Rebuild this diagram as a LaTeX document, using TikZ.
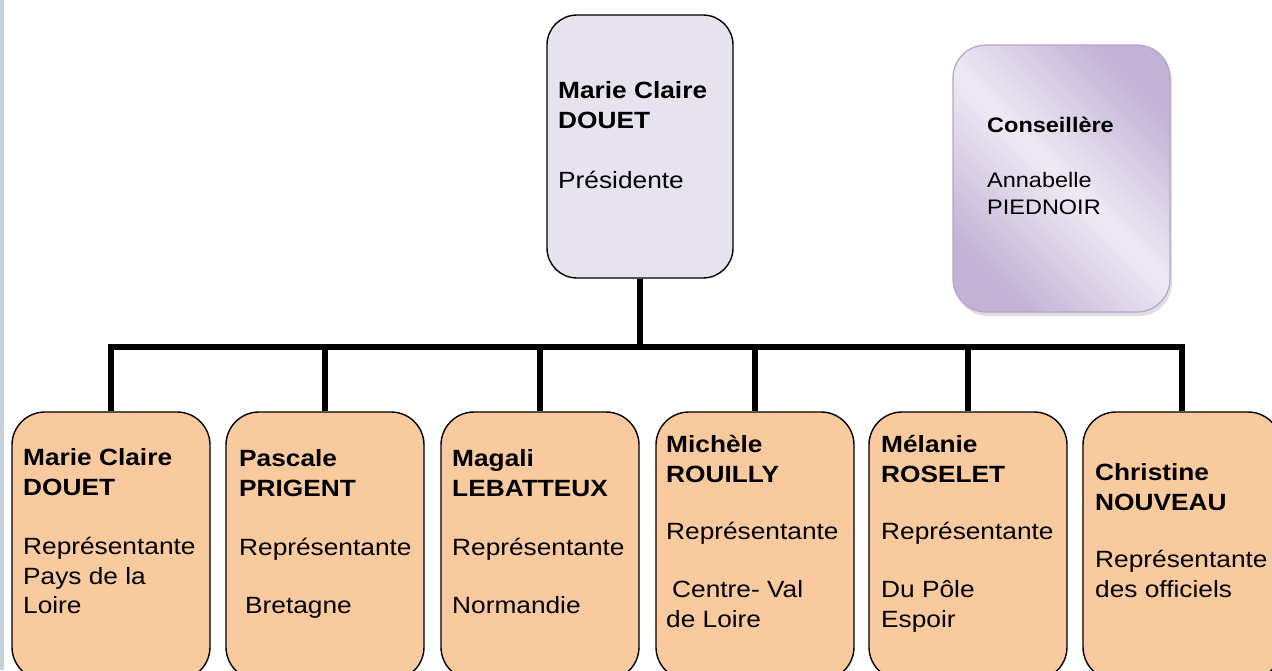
\documentclass[tikz,border=0pt]{standalone}
\usepackage{fontspec}
\setmainfont[FakeStretch=1.118]{Liberation Sans}
\usetikzlibrary{calc,shadows}
\definecolor{orangefill}{HTML}{F9CA9E}
\definecolor{topfill}{HTML}{E6E2EE}
\definecolor{purpdark}{HTML}{C2B2D5}
\definecolor{purplight}{HTML}{EEEAF4}
\definecolor{purpborder}{HTML}{B6A4CC}
\definecolor{leftbar}{HTML}{C5D0DA}
\tikzset{
  orgbox/.style={draw=black, line width=1.4pt, rounded corners=33pt, inner sep=0pt,
    minimum width=198pt, minimum height=268pt, fill=orangefill},
  presbox/.style={draw=black, line width=1.4pt, rounded corners=30pt, inner sep=0pt,
    minimum width=186pt, minimum height=263pt, fill=topfill},
  advbox/.style={draw=purpborder, line width=1.2pt, rounded corners=33pt, inner sep=0pt,
    minimum width=217pt, minimum height=267pt,
    top color=purpdark, bottom color=purpdark, middle color=purplight, shading angle=-45,
    drop shadow={opacity=0.25, shadow xshift=2pt, shadow yshift=-4pt}},
  label/.style={anchor=north west, inner sep=0pt, align=left, text=black,
    font=\fontsize{23.5}{29.8}\selectfont, execute at begin node=\strut},
  smalllabel/.style={anchor=north west, inner sep=0pt, align=left, text=black,
    font=\fontsize{21}{27.2}\selectfont, execute at begin node=\strut},
  conn/.style={draw=black, line width=6pt, line join=miter}
}
\begin{document}
\begin{tikzpicture}[x=1pt,y=-1pt]
\useasboundingbox (0,0) rectangle (1272,670);
\clip (0,0) rectangle (1272,670);
\fill[white] (0,0) rectangle (1272,670);
\fill[leftbar] (0,0) rectangle (3.5,670);

% boxes
\node[presbox] (pres) at (640,146.5) {};
\node[advbox] (adv) at (1061.5,178.5) {};
\node[orgbox] (b1) at (111,546) {};
\node[orgbox] (b2) at (325,546) {};
\node[orgbox] (b3) at (540,546) {};
\node[orgbox] (b4) at (755,546) {};
\node[orgbox] (b5) at (968,546) {};
\node[orgbox] (b6) at (1182,546) {};

% connectors
\coordinate (bus) at (640,347);
\foreach \i in {1,...,6}{
  \draw[conn] (pres.south) -- (bus) -| (b\i.north);
}

% texts
\node[label] (tpres) at (558,81) {\textbf{Marie Claire}\\\textbf{DOUET}\\[30.5pt]Présidente};
\node[smalllabel] (tadv) at (987,117) {\textbf{Conseillère}\\[27.5pt]Annabelle\\PIEDNOIR};

\node[label] (t1) at (23,448.5) {\textbf{Marie Claire}\\\textbf{DOUET}\\[29pt]Représentante\\Pays de la\\Loire};
\node[label] (t2) at (239,449.5) {\textbf{Pascale}\\\textbf{PRIGENT}\\[29pt]Représentante\\[28pt]\hspace*{6pt}Bretagne};
\node[label] (t3) at (452,449.5) {\textbf{Magali}\\\textbf{LEBATTEUX}\\[29pt]Représentante\\[28pt]Normandie};
\node[label] (t4) at (666,435) {\textbf{Michèle}\\\textbf{ROUILLY}\\[27pt]Représentante\\[28.5pt]\hspace*{6pt}Centre- Val\\de Loire};
\node[label] (t5) at (881,435) {\textbf{Mélanie}\\\textbf{ROSELET}\\[27pt]Représentante\\[28.5pt]Du Pôle\\Espoir};
\node[label] (t6) at (1095,463) {\textbf{Christine}\\\textbf{NOUVEAU}\\[28pt]Représentante\\des officiels};
\end{tikzpicture}
\end{document}
